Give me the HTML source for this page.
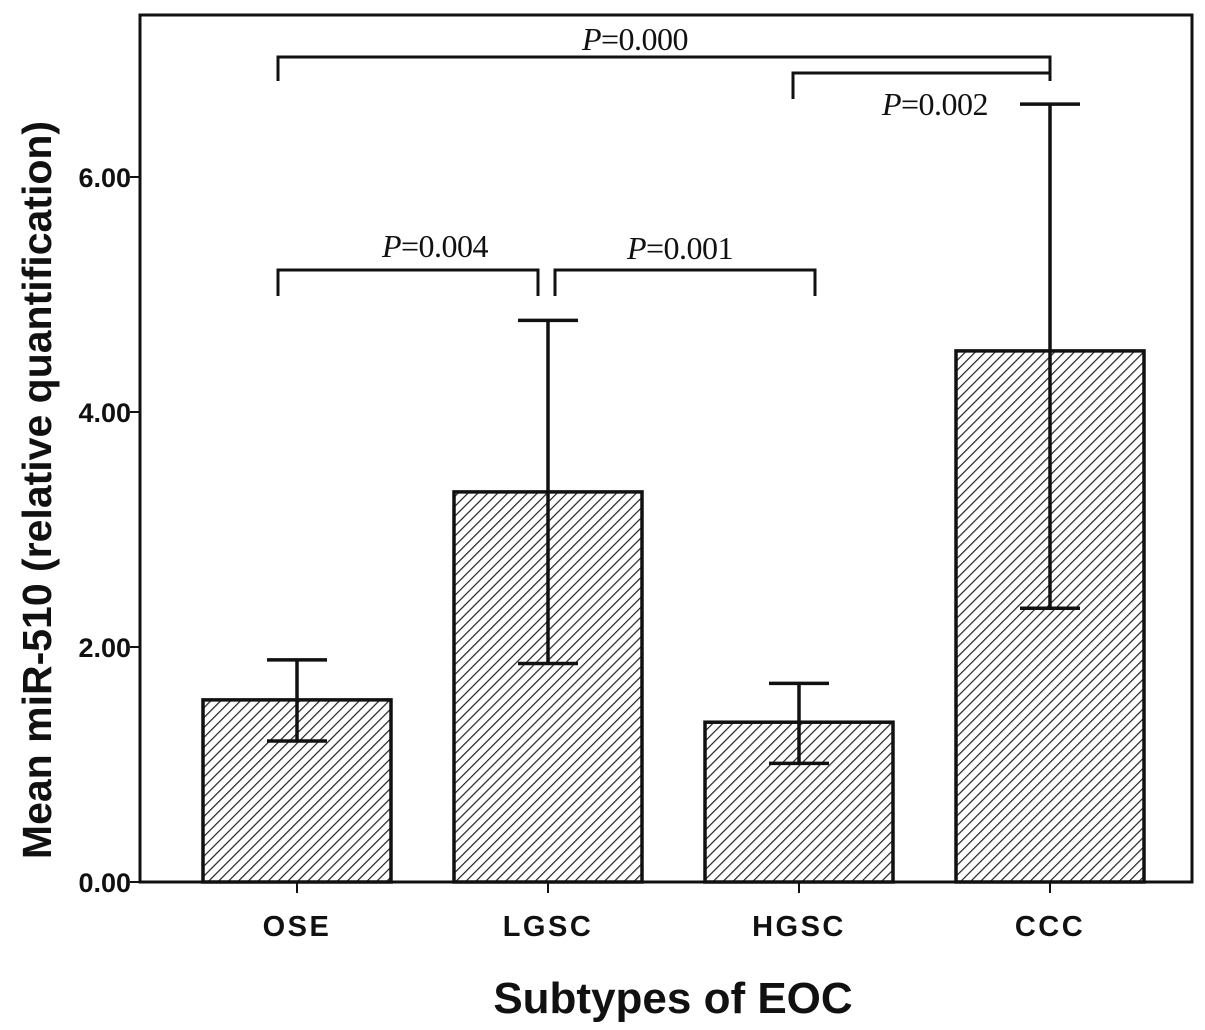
<!DOCTYPE html>
<html><head><meta charset="utf-8"><style>
html,body{margin:0;padding:0;background:#fff;}
svg{display:block;}
.tk{font-family:"Liberation Sans",sans-serif;font-weight:bold;font-size:27px;fill:#111;}
.xtk{font-family:"Liberation Sans",sans-serif;font-weight:bold;font-size:29px;letter-spacing:2.5px;fill:#111;}
.pv{font-family:"Liberation Serif",serif;font-size:32px;fill:#111;letter-spacing:-0.5px;}
</style></head><body>
<svg id="chart" width="1205" height="1030">
<defs><pattern id="hatch" patternUnits="userSpaceOnUse" width="7" height="7" patternTransform="rotate(45)"><rect width="7" height="7" fill="#fff"/><line x1="0" y1="0" x2="0" y2="7" stroke="#222" stroke-width="2.4"/></pattern></defs>
<rect x="140" y="15" width="1052" height="867" fill="none" stroke="#111" stroke-width="3"/>
<g id="bars"></g><g id="axes"></g><g id="sig"></g>
<text x="673" y="1013" text-anchor="middle" font-family="Liberation Sans, sans-serif" font-weight="bold" font-size="44" fill="#111">Subtypes of EOC</text>
<text transform="translate(51,490) rotate(-90)" text-anchor="middle" font-family="Liberation Sans, sans-serif" font-weight="bold" font-size="41" fill="#111">Mean miR-510 (relative quantification)</text>
</svg>
<script>
const categories=["OSE","LGSC","HGSC","CCC"];
const means=[1.55,3.32,1.36,4.52];
const errLow=[1.20,1.86,1.01,2.33];
const errHigh=[1.89,4.78,1.69,6.62];
const yTicks=[0,2,4,6];
const yTickLabels=["0.00","2.00","4.00","6.00"];
const NS="http://www.w3.org/2000/svg";
const y=v=>882-v*117.5;
const xc=i=>297+i*251;
const bw=188;
function mk(t,a,p){const e=document.createElementNS(NS,t);for(const k in a)e.setAttribute(k,a[k]);p.appendChild(e);return e;}
const gb=document.getElementById('bars'),ga=document.getElementById('axes'),gs=document.getElementById('sig');
categories.forEach((c,i)=>{
 const r=mk('rect',{x:xc(i)-bw/2,y:y(means[i]),width:bw,height:y(0)-y(means[i]),fill:'url(#hatch)',stroke:'#111','stroke-width':3.5},gb);
 
 
 const g=mk('g',{stroke:'#111','stroke-width':3.5,fill:'none'},gb);
 
 
 mk('line',{x1:xc(i),x2:xc(i),y1:y(errLow[i]),y2:y(errHigh[i])},g);
 mk('line',{x1:xc(i)-30,x2:xc(i)+30,y1:y(errLow[i]),y2:y(errLow[i])},g);
 mk('line',{x1:xc(i)-30,x2:xc(i)+30,y1:y(errHigh[i]),y2:y(errHigh[i])},g);
 mk('line',{x1:xc(i),x2:xc(i),y1:882,y2:893,stroke:'#111','stroke-width':2},ga);
 const t=mk('text',{x:xc(i),y:936,'text-anchor':'middle',class:'xtk'},ga);t.textContent=c;
 
 
});
yTicks.forEach((v,i)=>{
 mk('line',{x1:130,x2:140,y1:y(v),y2:y(v),stroke:'#111','stroke-width':2},ga);
 const t=mk('text',{x:131,y:y(v)+10,'text-anchor':'end',class:'tk'},ga);t.textContent=yTickLabels[i];
 
 
});
function br(x1,x2,yy,dl,dr,lx,ly,val,name){
 const g=mk('g',{},gs);
 
 
 mk('polyline',{points:`${x1},${yy+dl} ${x1},${yy} ${x2},${yy} ${x2},${yy+dr}`,fill:'none',stroke:'#111','stroke-width':3},g);
 const t=mk('text',{x:lx,y:ly,'text-anchor':'middle',class:'pv'},g);
 t.innerHTML='<tspan font-style="italic">P</tspan>=0'+val.slice(1);
}
br(278,1050,57,24,24,635,50,'0.000','sig-bracket-ose-ccc');
br(793,1050,73,26,0,935,115,'0.002','sig-bracket-hgsc-ccc');
br(278,538,270,26,26,435,257,'0.004','sig-bracket-ose-lgsc');
br(555,815,270,26,26,680,259,'0.001','sig-bracket-lgsc-hgsc');
</script>
</body></html>
